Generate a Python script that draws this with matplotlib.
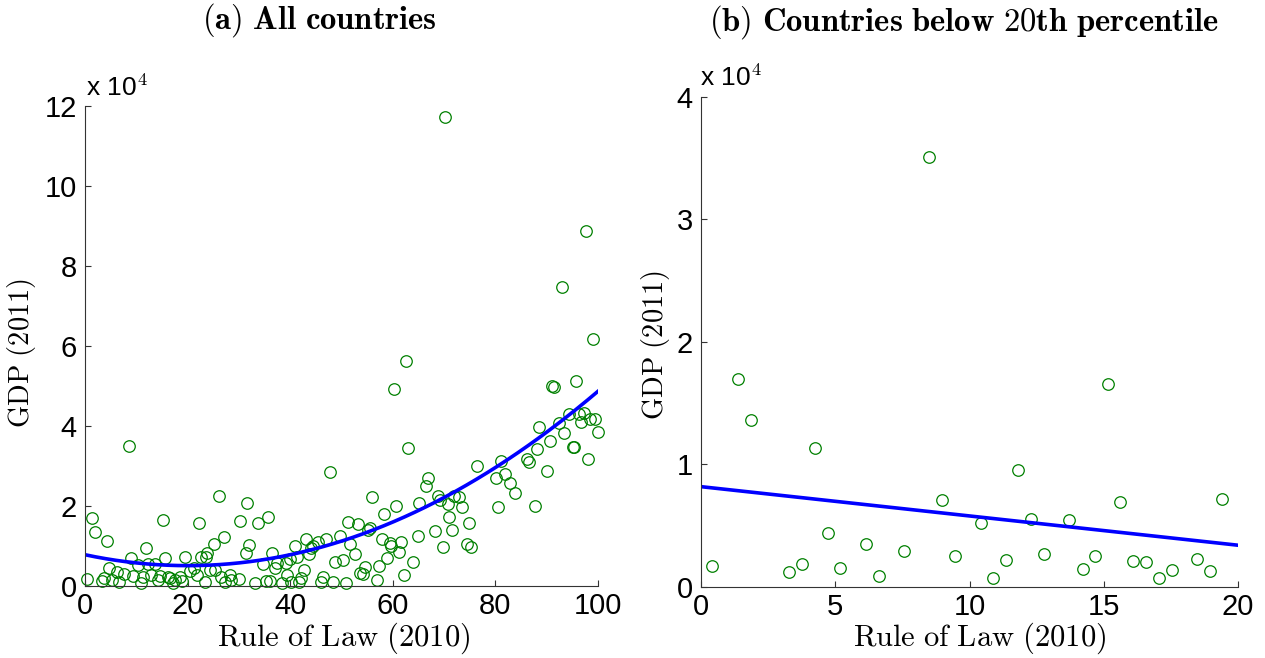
import numpy as np
import matplotlib.pyplot as plt

# Rule of Law (2010) percentile rank and GDP (2011), GDP in units of 10^4
rule_of_law = [
    0.41, 1.38, 1.87, 3.28, 3.76, 4.24, 4.71, 5.17, 6.14, 6.61, 7.56, 8.49,
    8.98, 9.45, 10.41, 10.88, 11.35, 11.82, 12.30, 12.78, 13.72, 14.21, 14.68,
    15.16, 15.62, 16.10, 16.57, 17.06, 17.53, 18.48, 18.95, 19.42,
    20.5, 21.3, 21.8, 22.3, 22.6, 23.3, 23.5, 23.75, 24.3, 25.05, 25.25, 26.1,
    26.5, 27.0, 27.3, 28.2, 28.5, 30.0, 30.3, 31.3, 31.6, 32.0,
    33.2, 33.7, 34.7, 35.2, 35.6, 36.1, 36.5, 37.0, 37.4, 38.4, 39.1, 39.4,
    39.9, 40.2, 40.9, 41.3, 41.8, 42.1, 42.7, 43.1, 43.6, 44.1, 44.5, 45.4,
    46.0, 46.4, 46.9, 47.8, 48.4, 48.8, 49.8, 50.2, 50.8, 51.2, 51.7, 52.6,
    53.2, 53.6, 54.1, 54.5, 55.1, 55.6, 56.0, 56.9, 57.4, 57.9, 58.3, 58.8,
    59.4, 59.7, 60.2, 60.6, 61.2, 61.6, 62.2, 62.6, 63.0, 63.9, 64.9, 65.2,
    66.4, 66.8, 68.3, 68.8, 69.2, 69.7, 70.1, 70.7, 71.0, 71.6, 72.0, 73.0,
    73.5, 74.4, 74.8, 75.3, 76.4, 80.1, 80.5, 81.1, 81.9, 82.9, 83.9, 86.2,
    86.6, 87.7, 88.1, 88.6, 90.0, 90.6, 91.0, 91.5, 92.4, 92.9, 93.3, 94.3,
    95.1, 95.4, 95.7, 96.3, 96.7, 97.2, 97.7, 98.1, 98.5, 99.0, 99.5, 100.0,
]
gdp = [
    0.169, 1.695, 1.362, 0.123, 0.191, 1.135, 0.439, 0.158, 0.352, 0.090, 0.295, 3.51,
    0.709, 0.256, 0.521, 0.074, 0.221, 0.958, 0.557, 0.267, 0.546, 0.147, 0.251,
    1.659, 0.696, 0.213, 0.205, 0.074, 0.142, 0.226, 0.131, 0.718,
    0.375, 0.46, 0.275, 1.57, 0.72, 0.11, 0.73, 0.82, 0.40, 1.05, 0.40, 2.25,
    0.23, 1.23, 0.09, 0.28, 0.15, 0.17, 1.63, 0.83, 2.07, 1.03,
    0.07, 1.57, 0.55, 0.13, 1.73, 0.13, 0.83, 0.46, 0.58, 0.07, 0.57, 0.28,
    0.67, 0.11, 1.00, 0.73, 0.11, 0.19, 0.40, 1.18, 0.80, 0.94, 1.00, 1.11,
    0.11, 0.22, 1.17, 2.86, 0.11, 0.61, 1.25, 0.65, 0.07, 1.61, 1.04, 0.80,
    1.54, 0.33, 0.30, 0.48, 1.40, 1.44, 2.23, 0.15, 0.50, 1.18, 1.79, 0.69,
    1.08, 1.00, 4.92, 2.00, 0.86, 1.11, 0.28, 5.63, 3.46, 0.61, 1.25, 2.08,
    2.50, 2.69, 1.38, 2.25, 2.15, 0.98, 11.73, 2.04, 1.73, 1.40, 2.25, 2.23,
    1.98, 1.05, 1.57, 0.97, 3.01, 2.69, 1.98, 3.13, 2.80, 2.58, 2.32, 3.18,
    3.11, 2.00, 3.43, 3.98, 2.88, 3.63, 5.01, 4.98, 4.08, 7.47, 3.82, 4.30,
    3.48, 3.47, 5.13, 4.30, 4.11, 4.32, 8.88, 3.17, 4.17, 6.18, 4.17, 3.86,
]

# fitted curves (GDP in 10^4)
quad_fit = [0.000681, -0.02724, 0.782]   # all countries, quadratic
lin_fit = [-0.0239, 0.819]               # below 20th percentile, linear
cutoff = 20

plt.rcParams['font.family'] = 'Liberation Sans'
plt.rcParams['mathtext.fontset'] = 'cm'

x_all = np.array(rule_of_law)
y_all = np.array(gdp)
low = x_all < cutoff

fig = plt.figure(figsize=(12.65, 6.58), dpi=100)
ax1 = fig.add_axes([0.0672, 0.1094, 0.4055, 0.7295])
ax2 = fig.add_axes([0.5542, 0.1079, 0.4245, 0.7447])

green = '#008000'
for ax in (ax1, ax2):
    for s in ('top', 'right'):
        ax.spines[s].set_visible(False)
    for s in ('left', 'bottom'):
        ax.spines[s].set_color('#333333')
        ax.spines[s].set_linewidth(0.8)
    ax.tick_params(direction='in', length=4, width=0.8, color='#333333',
                   labelsize=21)
    ax.tick_params(axis='x', pad=4)
    ax.tick_params(axis='y', pad=6)

ax1.plot(x_all, y_all, 'o', mfc='none', mec=green, ms=8.3, mew=0.9, clip_on=False)
xs = np.linspace(0, 100, 200)
ax1.plot(xs, np.polyval(quad_fit, xs), color='blue', lw=2.6)
ax1.set_xlim(0, 100)
ax1.set_ylim(0, 12)
ax1.set_xticks(range(0, 101, 20))
ax1.set_yticks(range(0, 13, 2))

ax2.plot(x_all[low], y_all[low], 'o', mfc='none', mec=green, ms=8.3, mew=0.9, clip_on=False)
xl = np.array([0, cutoff])
ax2.plot(xl, np.polyval(lin_fit, xl), color='blue', lw=2.6)
ax2.set_xlim(0, 20)
ax2.set_ylim(0, 4)
ax2.set_xticks(range(0, 21, 5))
ax2.set_yticks(range(0, 5))

# titles, labels, exponent note
fig.text(319 / 1265, 1 - 20 / 658, r'$\mathbf{(a)\ All\ countries}$',
         ha='center', va='center', fontsize=23.5)
fig.text(964 / 1265, 1 - 3 / 658, r'$\mathbf{(b)\ Countries\ below\ 20th\ percentile}$',
         ha='center', va='top', fontsize=23.5)
for xc in (344, 980):
    fig.text(xc / 1265, 1 - 638 / 658, r'$\mathrm{Rule\ of\ Law\ (2010)}$',
             ha='center', va='center', fontsize=22)
for xc, yc in ((22, 353), (655, 345)):
    fig.text(xc / 1265, 1 - yc / 658, r'$\mathrm{GDP\ (2011)}$',
             ha='center', va='center', fontsize=20.5, rotation=90)
fig.text(86 / 1265, 1 - 88 / 658, r'x 10$^{4}$', ha='left', va='center', fontsize=19)
fig.text(700 / 1265, 1 - 78 / 658, r'x 10$^{4}$', ha='left', va='center', fontsize=19)

fig.savefig('out.png', dpi=100)
